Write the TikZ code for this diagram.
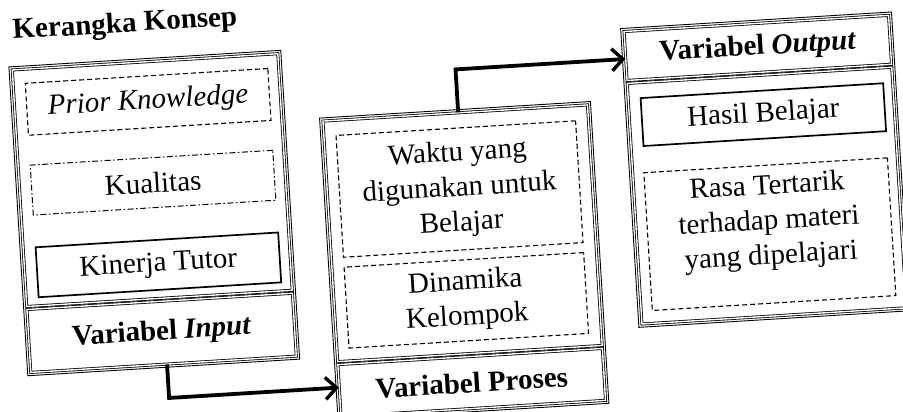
\documentclass[tikz,border=0pt]{standalone}
\usepackage{fontspec}
\setmainfont{Liberation Serif}
\usetikzlibrary{arrows.meta}
\begin{document}
\begin{tikzpicture}[x=1pt,y=-1pt,
  font=\fontsize{29}{35}\selectfont,
  cell/.style={draw, double, double distance=1.4pt, line width=0.8pt, inner sep=0pt, anchor=north west},
  frame/.style={draw, line width=0.9pt},
  solidbox/.style={draw, line width=1.7pt, inner sep=0pt, anchor=north west, align=center},
  dashbox/.style={draw, line width=1.1pt, dash pattern=on 5pt off 3pt, inner sep=0pt, anchor=north west, align=center},
  dotdashbox/.style={draw, line width=1pt, dash pattern=on 6pt off 2.5pt on 1.5pt off 2.5pt, inner sep=0pt, anchor=north west, align=center},
  txt/.style={inner sep=0pt, align=center},
  arr/.style={line width=3.8pt, line join=miter, -{Straight Barb[length=11pt,width=22pt,line width=3.4pt]}}
]
\useasboundingbox (0,0) rectangle (903,412);
\begin{scope}[rotate around={3.5:(451.5,206)}, transform shape]
  % title
  \node[anchor=base west, inner sep=0pt, font=\bfseries\fontsize{29}{35}\selectfont] (title) at (24,12.5) {Kerangka Konsep};

  % left group (input)
  \node[cell, minimum width=266pt, minimum height=237pt] (inc) at (21,43) {};
  \node[cell, minimum width=266pt, minimum height=63pt] (inlab) at (21,283) {\textbf{Variabel \textit{Input}}};
  \draw[frame] ([shift={(-2.8pt,2.8pt)}]inc.north west) rectangle ([shift={(2.8pt,-2.8pt)}]inlab.south east);
  \node[dashbox, minimum width=243pt, minimum height=52pt] (pk) at (33,57) {\textit{Prior Knowledge}};
  \node[dotdashbox, minimum width=243pt, minimum height=50pt] (kual) at (33,139) {Kualitas};
  \node[solidbox, minimum width=243pt, minimum height=50pt] (kin) at (33,221) {Kinerja Tutor};

  % middle group (process)
  \node[cell, minimum width=265pt, minimum height=241pt] (proc) at (328,113) {};
  \node[cell, minimum width=265pt, minimum height=52pt] (proslab) at (328,357) {\textbf{Variabel Proses}};
  \draw[frame] ([shift={(-2.8pt,2.8pt)}]proc.north west) rectangle ([shift={(2.8pt,-2.8pt)}]proslab.south east);
  \node[dashbox, minimum width=240pt, minimum height=122pt] (waktu) at (340,128) {Waktu yang\\digunakan untuk\\Belajar};
  \node[dashbox, minimum width=240pt, minimum height=81pt] (dina) at (340,260) {Dinamika\\Kelompok};

  % right group (output)
  \node[cell, minimum width=265pt, minimum height=49pt] (outlab) at (634,42) {\textbf{Variabel \textit{Output}}};
  \node[cell, minimum width=265pt, minimum height=241pt] (outc) at (634,94) {};
  \draw[frame] ([shift={(-2.8pt,2.8pt)}]outlab.north west) rectangle ([shift={(2.8pt,-2.8pt)}]outc.south east);
  \node[solidbox, minimum width=243pt, minimum height=48pt] (hasil) at (646,109) {Hasil Belajar};
  \node[dashbox, minimum width=244pt, minimum height=138pt] (rasa) at (645,184) {};
  \node[txt] (rasatxt) at ([yshift=12pt]rasa.center) {Rasa Tertarik\\terhadap materi\\yang dipelajari};

  % connectors
  \draw[arr] ([xshift=3.5pt]inlab.south) |- ([yshift=3pt]proslab.west);
  \draw[arr] ([xshift=3pt]proc.north) |- ([yshift=-3pt]outlab.west);
\end{scope}
\end{tikzpicture}
\end{document}
